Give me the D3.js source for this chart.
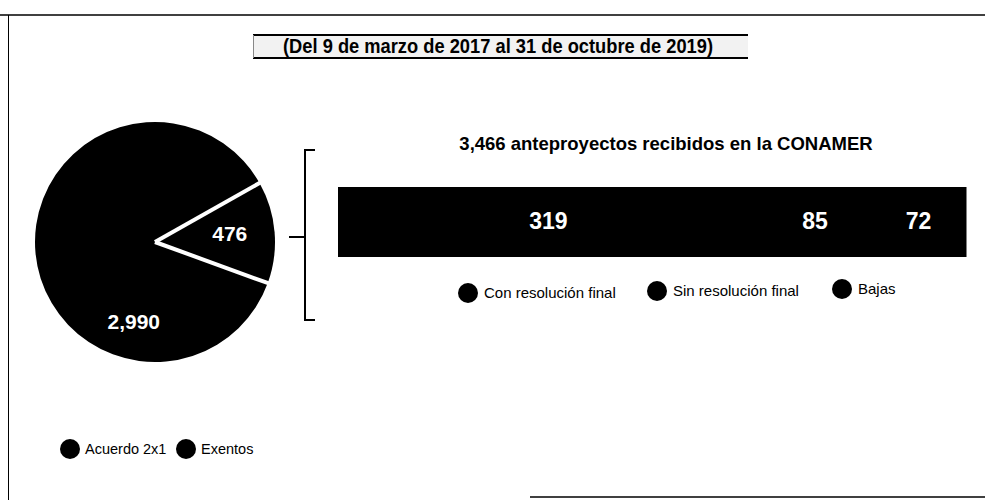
<!DOCTYPE html>
<html>
<head>
<meta charset="utf-8">
<script src="https://cdn.jsdelivr.net/npm/d3@7"></script>
<style>
  html, body { margin: 0; padding: 0; background: #fff; }
  svg { display: block; }
</style>
</head>
<body>
<svg id="chart" width="985" height="500"></svg>
<script>
// ---- Data ----
const titleText = "(Del 9 de marzo de 2017 al 31 de octubre de 2019)";
const subtitleText = "3,466 anteproyectos recibidos en la CONAMER";
const pieCategories = ["Acuerdo 2x1", "Exentos"];
const pieValues = [2990, 476];
const pieLabels = ["2,990", "476"];
const barCategories = ["Con resolución final", "Sin resolución final", "Bajas"];
const barValues = [319, 85, 72];
const barLabels = ["319", "85", "72"];

// ---- Setup ----
const svg = d3.select("#chart");
const W = 985, H = 500;
const ink = "#000";
const font = "'Liberation Sans', Arial, Helvetica, sans-serif";
const rad = d => d * Math.PI / 180;

svg.append("rect").attr("width", W).attr("height", H).attr("fill", "#fff");

// Frame (scanned page border)
const frame = svg.append("g").attr("stroke", ink).attr("fill", "none");
frame.append("line").attr("x1", 0).attr("x2", W).attr("y1", 15).attr("y2", 15).attr("stroke-width", 1.5);
frame.append("line").attr("x1", 8.5).attr("x2", 8.5).attr("y1", 15).attr("y2", H).attr("stroke-width", 1);
frame.append("line").attr("x1", 530).attr("x2", W).attr("y1", 497).attr("y2", 497).attr("stroke-width", 1.5);

// Title box
const tb = svg.append("g");
tb.append("rect").attr("x", 253).attr("y", 35).attr("width", 495).attr("height", 23).attr("fill", "#f2f2f2");
tb.append("line").attr("x1", 253).attr("x2", 748).attr("y1", 35).attr("y2", 35).attr("stroke", ink).attr("stroke-width", 2);
tb.append("line").attr("x1", 253).attr("x2", 748).attr("y1", 58).attr("y2", 58).attr("stroke", ink).attr("stroke-width", 2);
tb.append("line").attr("x1", 253.5).attr("x2", 253.5).attr("y1", 35).attr("y2", 58).attr("stroke", "#888").attr("stroke-width", 1);
tb.append("text")
  .attr("x", 283).attr("y", 53)
  .attr("font-family", "'Liberation Sans Narrow', 'Arial Narrow', " + font)
  .attr("font-weight", "bold").attr("font-size", 19.5)
  .attr("fill", ink)
  .attr("textLength", 430).attr("lengthAdjust", "spacingAndGlyphs")
  .text(titleText);

// ---- Pie ----
const cx = 155, cy = 242, R = 120;
const pie = d3.pie().sort(null).value(d => d)
  .startAngle(rad(110)).endAngle(rad(470));
const arcs = pie(pieValues);
const arc = d3.arc().innerRadius(0).outerRadius(R);
const pg = svg.append("g").attr("transform", `translate(${cx},${cy})`);
pg.selectAll("path").data(arcs).join("path")
  .attr("d", arc)
  .attr("fill", ink);
// white separators between slices
const sepR = R + 2;
[arcs[1].startAngle, arcs[1].endAngle].forEach(a => {
  pg.append("line")
    .attr("x1", 0).attr("y1", 0)
    .attr("x2", sepR * Math.sin(a)).attr("y2", -sepR * Math.cos(a))
    .attr("stroke", "#fff").attr("stroke-width", 4).attr("stroke-linecap", "butt");
});
// labels
const labelPos = [
  { a: rad(195), r: 82 },
  { a: (arcs[1].startAngle + arcs[1].endAngle) / 2, r: 75 }
];
pg.selectAll("text.pl").data(arcs).join("text")
  .attr("class", "pl")
  .attr("x", (d, i) => labelPos[i].r * Math.sin(labelPos[i].a))
  .attr("y", (d, i) => -labelPos[i].r * Math.cos(labelPos[i].a) - (i === 1 ? 2 : 0))
  .attr("dy", "0.36em")
  .attr("text-anchor", "middle")
  .attr("font-family", font).attr("font-weight", "bold").attr("font-size", 21)
  .attr("fill", "#fff")
  .text((d, i) => pieLabels[i]);

// ---- Bracket ----
const br = svg.append("g").attr("stroke", ink).attr("stroke-width", 2).attr("fill", "none");
br.append("path").attr("d", "M315,150 H305 V320 H315");
br.append("line").attr("x1", 289).attr("x2", 305).attr("y1", 237).attr("y2", 237);

// ---- Subtitle ----
svg.append("text")
  .attr("x", 666).attr("y", 150)
  .attr("text-anchor", "middle")
  .attr("font-family", font).attr("font-weight", "bold").attr("font-size", 18.5)
  .attr("fill", ink)
  .text(subtitleText);

// ---- Stacked bar ----
const total = d3.sum(barValues);
const x = d3.scaleLinear().domain([0, total]).range([338, 966]);
const y = d3.scaleBand().domain(["Exentos"]).range([187, 257]).padding(0);
const stackData = [];
let acc = 0;
barValues.forEach((v, i) => { stackData.push({ x0: acc, x1: acc + v, i }); acc += v; });
const bg = svg.append("g");
bg.selectAll("rect").data(stackData).join("rect")
  .attr("x", d => x(d.x0))
  .attr("width", d => x(d.x1) - x(d.x0) + 0.5)
  .attr("y", y("Exentos"))
  .attr("height", y.bandwidth())
  .attr("fill", ink);
bg.selectAll("text").data(stackData).join("text")
  .attr("x", d => (x(d.x0) + x(d.x1)) / 2)
  .attr("y", y("Exentos") + y.bandwidth() / 2 - 1)
  .attr("dy", "0.36em")
  .attr("text-anchor", "middle")
  .attr("font-family", font).attr("font-weight", "bold").attr("font-size", 23)
  .attr("fill", "#fff")
  .text(d => barLabels[d.i]);

// ---- Bar legend ----
const barLegendX = [468, 657, 842];
const barLegendY = [293, 291, 289];
const bl = svg.append("g");
barCategories.forEach((c, i) => {
  bl.append("circle").attr("cx", barLegendX[i]).attr("cy", barLegendY[i]).attr("r", 10).attr("fill", ink);
  bl.append("text")
    .attr("x", barLegendX[i] + 16).attr("y", barLegendY[i] + 5)
    .attr("font-family", font).attr("font-size", 15)
    .attr("fill", ink)
    .text(c);
});

// ---- Pie legend ----
const pieLegendX = [70, 186];
const pl = svg.append("g");
pieCategories.forEach((c, i) => {
  pl.append("circle").attr("cx", pieLegendX[i]).attr("cy", 449).attr("r", 10).attr("fill", ink);
  pl.append("text")
    .attr("x", pieLegendX[i] + 15).attr("y", 454)
    .attr("font-family", font).attr("font-size", 14.5)
    .attr("fill", ink)
    .text(c);
});
</script>
</body>
</html>
